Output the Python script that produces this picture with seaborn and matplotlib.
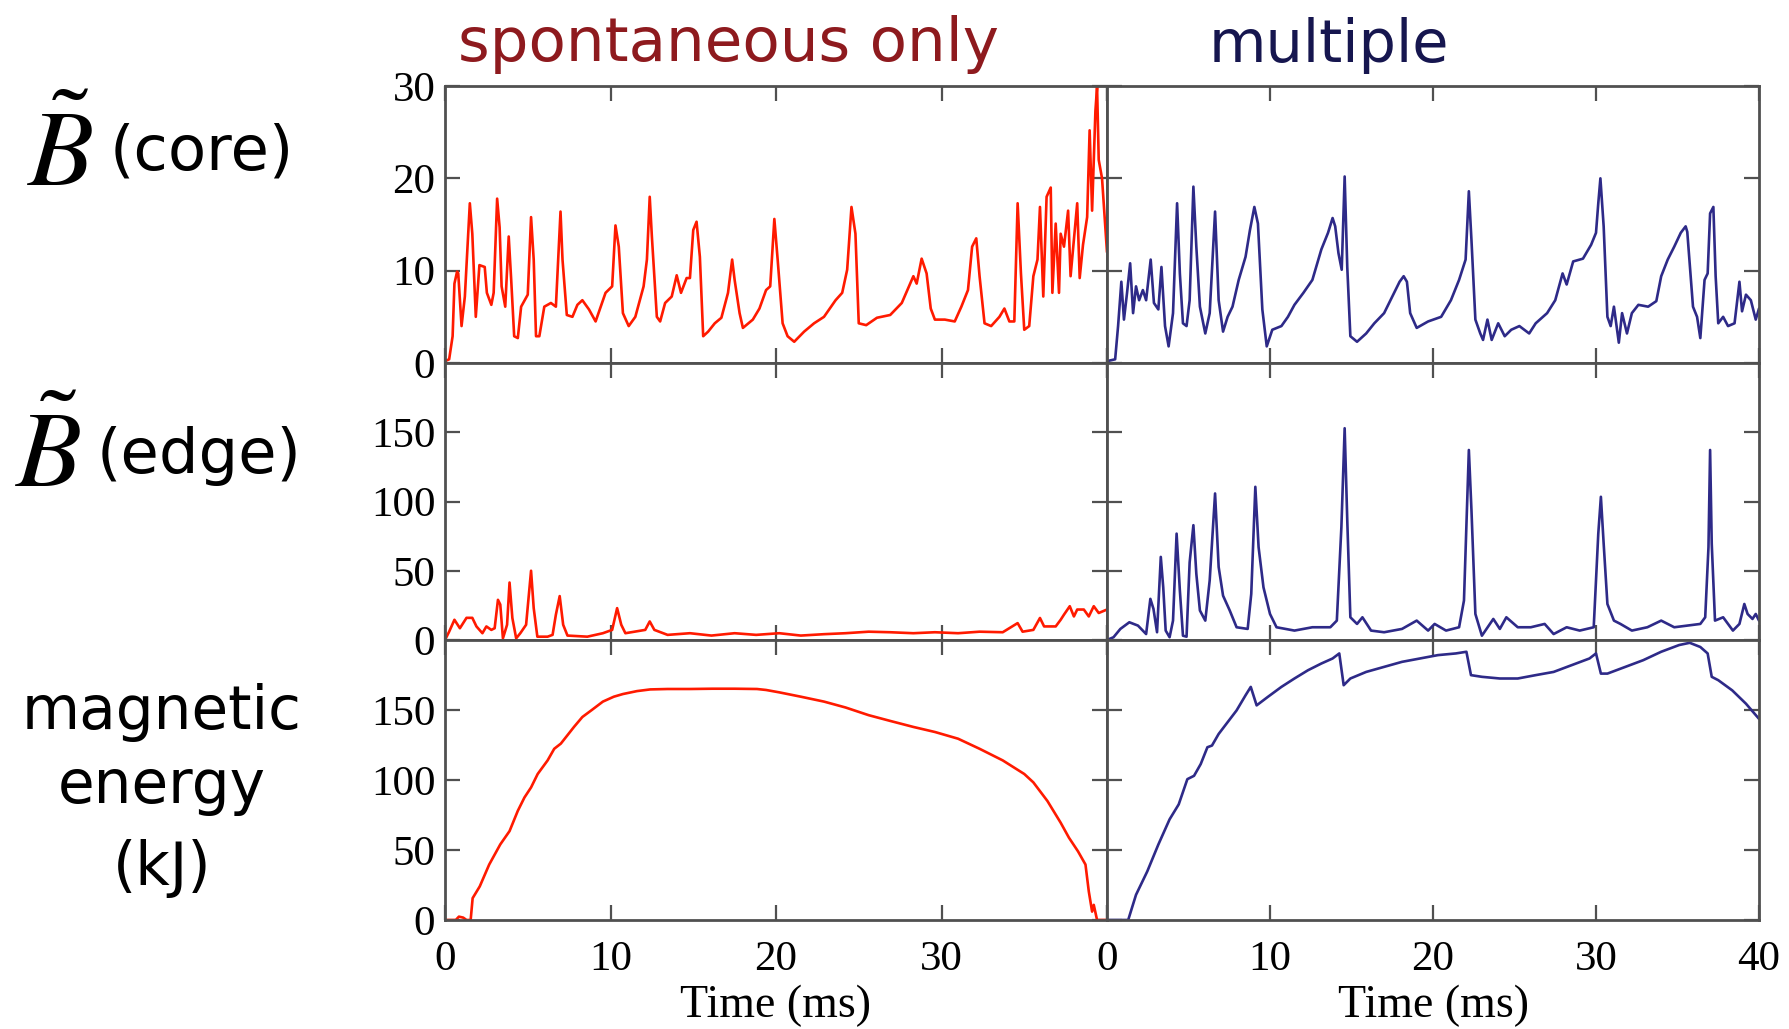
import matplotlib
matplotlib.use("Agg")
import matplotlib.pyplot as plt
import seaborn as sns

# ---------------- data ----------------
core_spont_t = [0, 0.25, 0.46, 0.57, 0.73, 0.8, 1.0, 1.2, 1.5, 1.65, 1.86, 2.08, 2.4, 2.53, 2.8, 2.94,
                3.15, 3.3, 3.42, 3.64, 3.85, 4.0, 4.18, 4.4, 4.6, 5.0, 5.2, 5.36, 5.5, 5.7, 6.0, 6.4,
                6.7, 6.98, 7.1, 7.36, 7.7, 8.0, 8.3, 8.7, 9.1, 9.7, 10.1, 10.3, 10.5, 10.75, 11.1, 11.5,
                12.0, 12.2, 12.37, 12.5, 12.8, 13.0, 13.3, 13.7, 14.0, 14.26, 14.6, 14.8, 15.0, 15.2,
                15.4, 15.6, 15.9, 16.3, 16.7, 17.1, 17.35, 17.5, 17.8, 18.0, 18.6, 19.0, 19.4, 19.65,
                19.9, 20.1, 20.4, 20.7, 21.1, 21.7, 22.3, 22.9, 23.6, 24.0, 24.3, 24.56, 24.8, 25.0,
                25.45, 26.1, 26.9, 27.6, 28.3, 28.5, 28.8, 29.1, 29.35, 29.6, 30.2, 30.8, 31.2, 31.6,
                31.85, 32.1, 32.3, 32.6, 33.0, 33.5, 33.8, 34.1, 34.4, 34.6, 34.8, 35.0, 35.3, 35.55,
                35.8, 35.95, 36.15, 36.35, 36.6, 36.7, 36.9, 37.1, 37.2, 37.4, 37.65, 37.8, 38.0, 38.2,
                38.35, 38.55, 38.8, 38.95, 39.1, 39.3, 39.4, 39.5, 39.7, 40.0]
core_spont_v = [0.2, 0.4, 2.9, 8.6, 9.9, 9.7, 4.0, 7.2, 17.3, 14.0, 5.0, 10.6, 10.4, 7.6, 6.3, 7.6,
                17.8, 14.7, 8.3, 6.1, 13.7, 9.0, 2.9, 2.7, 6.1, 7.4, 15.8, 11.2, 2.9, 2.9, 6.1, 6.5,
                6.1, 16.4, 11.2, 5.2, 5.0, 6.3, 6.8, 5.8, 4.5, 7.6, 8.3, 14.9, 12.6, 5.4, 4.0, 5.0,
                8.3, 11.2, 18.0, 13.7, 5.0, 4.5, 6.5, 7.2, 9.5, 7.6, 9.2, 9.2, 14.4, 15.3,
                11.5, 2.9, 3.4, 4.3, 4.9, 7.6, 11.2, 9.0, 5.4, 3.8, 4.7, 5.9, 7.9, 8.3,
                15.6, 11.2, 4.3, 2.9, 2.3, 3.4, 4.3, 5.0, 6.8, 7.6, 10.1, 16.9, 14.0, 4.3,
                4.1, 4.9, 5.2, 6.5, 9.4, 8.6, 11.3, 9.7, 5.9, 4.7, 4.7, 4.5, 6.1, 7.9,
                12.6, 13.5, 9.4, 4.3, 4.0, 5.0, 5.9, 4.5, 4.5, 17.3, 9.7, 3.6, 4.0, 9.4,
                11.2, 16.9, 7.2, 18.0, 19.0, 7.6, 15.1, 7.6, 14.0, 12.6, 16.5, 9.4, 13.3, 17.3,
                9.2, 12.8, 15.8, 25.2, 16.5, 27.3, 29.9, 22.0, 20.0, 12.0]

core_mult_t = [0, 0.5, 0.68, 0.88, 1.04, 1.23, 1.42, 1.6, 1.78, 1.97, 2.2, 2.4, 2.68, 2.88, 3.15, 3.34,
               3.56, 3.78, 4.05, 4.3, 4.47, 4.66, 4.88, 5.07, 5.3, 5.48, 5.7, 6.03, 6.3, 6.63, 6.85,
               7.12, 7.4, 7.7, 8.08, 8.5, 8.77, 9.04, 9.26, 9.53, 9.8, 10.14, 10.7, 11.1, 11.5, 12.05,
               12.6, 13.15, 13.56, 13.84, 14.0, 14.2, 14.4, 14.58, 14.74, 14.93, 15.34, 15.9, 16.4,
               17.0, 17.5, 17.95, 18.2, 18.4, 18.6, 19.0, 19.7, 20.5, 21.1, 21.6, 22.0, 22.2, 22.36,
               22.6, 22.9, 23.07, 23.34, 23.6, 24.0, 24.4, 24.8, 25.3, 25.9, 26.3, 27.0, 27.5, 27.95,
               28.2, 28.6, 29.2, 29.7, 30.0, 30.14, 30.27, 30.47, 30.7, 30.9, 31.1, 31.4, 31.6, 31.9,
               32.2, 32.6, 33.2, 33.7, 34.0, 34.4, 34.8, 35.2, 35.5, 35.6, 35.95, 36.2, 36.4, 36.66,
               36.85, 37.0, 37.2, 37.34, 37.5, 37.8, 38.1, 38.5, 38.8, 38.96, 39.2, 39.5, 39.8, 40.0]
core_mult_v = [0.2, 0.4, 4.0, 8.8, 4.7, 7.6, 10.8, 5.4, 8.3, 6.8, 7.9, 6.8, 11.2, 6.5, 5.8, 10.4,
               4.0, 1.8, 5.4, 17.3, 9.7, 4.3, 4.0, 6.8, 19.1, 12.6, 6.1, 3.2, 5.4, 16.4, 6.8,
               3.4, 5.0, 6.1, 9.0, 11.5, 14.4, 16.9, 15.1, 5.8, 1.8, 3.6, 4.0, 5.0, 6.3, 7.6,
               9.0, 12.3, 14.1, 15.7, 14.8, 11.9, 10.1, 20.2, 10.4, 2.9, 2.3, 3.2, 4.3,
               5.4, 7.2, 8.8, 9.4, 8.8, 5.4, 3.8, 4.5, 5.0, 6.8, 9.0, 11.2, 18.6, 13.3,
               4.7, 3.2, 2.5, 4.7, 2.5, 4.3, 2.9, 3.6, 4.0, 3.2, 4.3, 5.4, 6.8, 9.7,
               8.5, 11.0, 11.3, 12.8, 14.1, 17.3, 20.0, 14.8, 5.0, 4.0, 6.1, 2.2, 5.4, 3.2,
               5.4, 6.3, 6.1, 6.7, 9.4, 11.2, 12.6, 14.1, 14.8, 14.2, 6.1, 5.0, 2.7, 9.0,
               9.7, 16.2, 16.9, 9.4, 4.3, 5.0, 4.0, 4.3, 8.8, 5.6, 7.4, 6.8, 4.7, 5.9]

edge_spont_t = [0, 0.25, 0.57, 0.9, 1.3, 1.65, 1.9, 2.26, 2.5, 2.8, 3.0, 3.2, 3.34, 3.5, 3.75, 3.9,
                4.07, 4.3, 4.55, 4.9, 5.2, 5.36, 5.58, 6.2, 6.5, 6.7, 6.93, 7.14, 7.4, 8.6, 9.54,
                10.1, 10.4, 10.65, 10.9, 12.1, 12.37, 12.65, 13.45, 14.8, 16.1, 17.5, 18.8, 20.2,
                21.5, 22.9, 24.2, 25.6, 26.9, 28.3, 29.6, 31.0, 32.3, 33.7, 34.6, 34.9, 35.55, 35.95,
                36.2, 36.9, 37.2, 37.4, 37.75, 38.0, 38.2, 38.6, 38.9, 39.2, 39.5, 40.0]
edge_spont_v = [0, 6, 14.6, 8.5, 16, 16, 9.8, 4.9, 9.8, 7.3, 8.5, 29, 25.6, 1.2, 11, 41.5,
                15.9, 1.2, 4.9, 11, 50, 23, 2.4, 2.4, 3.7, 18.3, 31.7, 11, 3.2, 2.4, 4.9,
                7.3, 23, 11, 4.9, 7.3, 13.4, 7.3, 3.7, 4.9, 3.2, 4.9, 3.7, 4.9,
                3.2, 4.2, 4.9, 6, 5.6, 4.9, 5.6, 4.9, 6, 5.6, 12.2, 6, 7.3, 15.9,
                9.8, 9.8, 14.6, 18.3, 24.4, 17, 22, 22, 17, 24.4, 19.5, 22]

edge_mult_t = [0, 0.4, 0.82, 1.37, 1.9, 2.4, 2.66, 2.85, 3.07, 3.3, 3.45, 3.6, 3.84, 4.05, 4.27, 4.47,
               4.66, 4.88, 5.07, 5.3, 5.48, 5.7, 6.03, 6.3, 6.63, 6.85, 7.12, 7.53, 7.95, 8.63, 8.85,
               9.1, 9.3, 9.6, 10.0, 10.4, 11.5, 12.6, 13.7, 14.1, 14.38, 14.58, 14.74, 14.93, 15.34,
               15.67, 16.2, 17.0, 18.1, 19.0, 19.7, 20.1, 20.8, 21.6, 21.9, 22.2, 22.36, 22.6, 23.0,
               23.7, 24.1, 24.5, 25.2, 26.0, 26.85, 27.4, 28.2, 29.0, 29.86, 30.14, 30.3, 30.47, 30.7,
               31.1, 31.5, 32.2, 33.15, 34.0, 34.8, 35.6, 36.4, 36.7, 36.9, 37.0, 37.1, 37.3, 37.8,
               38.4, 38.8, 39.1, 39.3, 39.6, 39.8, 40.0]
edge_mult_v = [0, 2, 8, 12.8, 10.4, 4.3, 29.7, 22.5, 5.6, 60, 38, 6.8, 2, 14, 76.8, 35.7,
               3.1, 2.4, 56, 82.9, 47.8, 21.3, 14, 43, 105.8, 52.7, 32, 21.3, 9.2, 8, 33.3,
               110.6, 67, 38, 18.8, 9.2, 6.8, 9.2, 9.2, 14, 81.6, 152.9, 86.5, 16.4, 11.6,
               16.4, 6.8, 5.6, 8, 14, 6.8, 11.6, 6.8, 9.2, 28.5, 137.2, 93.7, 18.8, 3.1,
               15.2, 8, 16.4, 9.2, 9.2, 11.6, 4.3, 9.2, 6.8, 9.2, 76.8, 103.4, 69.6, 26,
               14, 11.6, 6.8, 9.2, 14, 9.2, 10.4, 11.6, 16.4, 67, 137.2, 69.6, 14, 16.4,
               6.8, 11.6, 26, 18.8, 15.2, 18.8, 14]

energy_spont_t = [0, 0.65, 0.84, 1.1, 1.3, 1.55, 1.67, 2.1, 2.67, 3.34, 3.9, 4.4, 4.8, 5.2, 5.6, 6.2,
                  6.6, 7.0, 7.4, 7.8, 8.3, 8.87, 9.54, 10.2, 10.75, 11.6, 12.4, 13.45, 14.8, 16.15,
                  17.5, 18.85, 19.4, 20.2, 21.5, 22.9, 24.2, 25.6, 26.9, 28.3, 29.6, 31.0, 32.3, 33.7,
                  35.0, 35.55, 36.4, 37.2, 37.7, 38.25, 38.7, 38.9, 39.1, 39.2, 39.4, 40.0]
energy_spont_v = [0, 0, 2.4, 1.7, 0, 0, 15.6, 24, 39.6, 54, 63.5, 78, 87.5, 94.7, 104.3, 114,
                  122.3, 126, 132, 138, 145, 150, 156, 159.5, 161.4, 163.5, 164.7, 165, 165, 165.2,
                  165.2, 165, 164.3, 162.6, 159.5, 156, 151.8, 146.3, 142.2, 137.9, 134.3, 129.5, 122.3, 114,
                  104.3, 98.3, 85, 69.5, 58.8, 49, 39.6, 20.4, 6, 10.8, 0, 0]

energy_mult_t = [0, 1.3, 1.78, 2.47, 3.15, 3.84, 4.4, 4.93, 5.34, 5.75, 6.16, 6.44, 6.85, 7.4, 7.95,
                 8.5, 8.82, 9.18, 9.86, 10.7, 11.5, 12.33, 13.15, 13.84, 14.25, 14.52, 14.93, 15.9,
                 17.0, 18.1, 19.2, 20.3, 21.4, 22.05, 22.33, 23.0, 24.1, 25.2, 26.3, 27.4, 28.5, 29.6,
                 30.0, 30.3, 30.7, 31.8, 32.9, 34.0, 35.1, 35.75, 36.4, 36.85, 37.1, 37.5, 38.36,
                 39.2, 40.0]
energy_mult_v = [0, 0, 18, 34.7, 53.9, 71.9, 82.6, 100.6, 103, 111.4, 123.4, 124.6, 132.9, 141.3, 149.7,
                 160.5, 166.5, 153.3, 159.3, 166.5, 172.5, 178.4, 183.2, 186.8, 190.4, 167.7, 172.5, 177.2,
                 180.8, 184.4, 186.8, 189.2, 190.4, 191.6, 174.9, 173.7, 172.5, 172.5, 174.9, 177.2, 182, 186.8,
                 190.4, 176, 176, 180.8, 185.6, 191.6, 196.4, 198, 195, 190.4, 173.7, 171.3, 164,
                 154.5, 143.7]

column_titles = ["spontaneous only", "multiple"]
x_ticks = [0, 10, 20, 30, 40]
core_ticks = [0, 10, 20, 30]
edge_ticks = [0, 50, 100, 150]
energy_ticks = [0, 50, 100, 150]
x_label = "Time (ms)"

# ---------------- style ----------------
sns.set_theme(style="white")
plt.rcParams["font.family"] = ["Liberation Serif", "DejaVu Serif"]
plt.rcParams["mathtext.fontset"] = "stix"
plt.rcParams["text.color"] = "black"
plt.rcParams["axes.labelcolor"] = "black"

RED = "#FF1A00"
NAVY = "#2E2A88"
TITLE_RED = "#8E1A1E"
TITLE_NAVY = "#16164F"
SPINE = "#505050"

W, H = 1789, 1029
fig = plt.figure(figsize=(W / 100, H / 100), dpi=100)


def px(x, y):
    return x / W, 1 - y / H


cols = [(445, 1107), (1107, 1759)]
rows = [(86, 363), (363, 640), (640, 920)]

series = [
    [(core_spont_t, core_spont_v), (core_mult_t, core_mult_v)],
    [(edge_spont_t, edge_spont_v), (edge_mult_t, edge_mult_v)],
    [(energy_spont_t, energy_spont_v), (energy_mult_t, energy_mult_v)],
]
ylims = [(0, 30), (0, 200), (0, 200)]
yticks = [core_ticks, edge_ticks, energy_ticks]
colors = [RED, NAVY]

for r, (y0, y1) in enumerate(rows):
    for c, (x0, x1) in enumerate(cols):
        ax = fig.add_axes([x0 / W, 1 - y1 / H, (x1 - x0) / W, (y1 - y0) / H])
        t, v = series[r][c]
        sns.lineplot(x=t, y=v, ax=ax, color=colors[c], linewidth=1.9,
                     estimator=None, sort=False)
        ax.set_xlim(0, 40)
        ax.set_ylim(*ylims[r])
        ax.set_xticks(x_ticks)
        ax.set_yticks(yticks[r])
        ax.set_xlabel("")
        ax.set_ylabel("")
        ax.tick_params(direction="in", length=11, width=1.6, top=True, right=True,
                       bottom=True, left=True, color=SPINE, labelsize=31,
                       labelcolor="black")
        ax.tick_params(axis="y", pad=7)
        ax.tick_params(axis="x", pad=15)
        for s in ax.spines.values():
            s.set_color(SPINE)
            s.set_linewidth(2.0)
        if c == 1:
            ax.set_yticklabels([])
        if r < 2:
            ax.set_xticklabels([])
        else:
            if c == 0:
                ax.set_xticklabels(["0", "10", "20", "30", ""])
            ax.set_xlabel(x_label, fontsize=33, labelpad=4, color="black")

# column titles
fig.text(*px(728, 45), column_titles[0], color=TITLE_RED, fontsize=44,
         family="DejaVu Sans", ha="center", va="center")
fig.text(*px(1329, 45), column_titles[1], color=TITLE_NAVY, fontsize=42.5,
         family="DejaVu Sans", ha="center", va="center")

# row labels
fig.text(*px(27, 186), r"$\tilde{B}$", fontsize=78, ha="left", va="baseline",
         color="black")
fig.text(*px(110, 152), "(core)", fontsize=45, family="DejaVu Sans",
         ha="left", va="center", color="black")
fig.text(*px(15, 487), r"$\tilde{B}$", fontsize=78, ha="left", va="baseline",
         color="black")
fig.text(*px(97, 456), "(edge)", fontsize=45, family="DejaVu Sans",
         ha="left", va="center", color="black")
for label, yy in [("magnetic", 713), ("energy", 787), ("(kJ)", 869)]:
    fig.text(*px(162, yy), label, fontsize=43, family="DejaVu Sans",
             ha="center", va="center", color="black")

fig.savefig("out.png", dpi=100)
